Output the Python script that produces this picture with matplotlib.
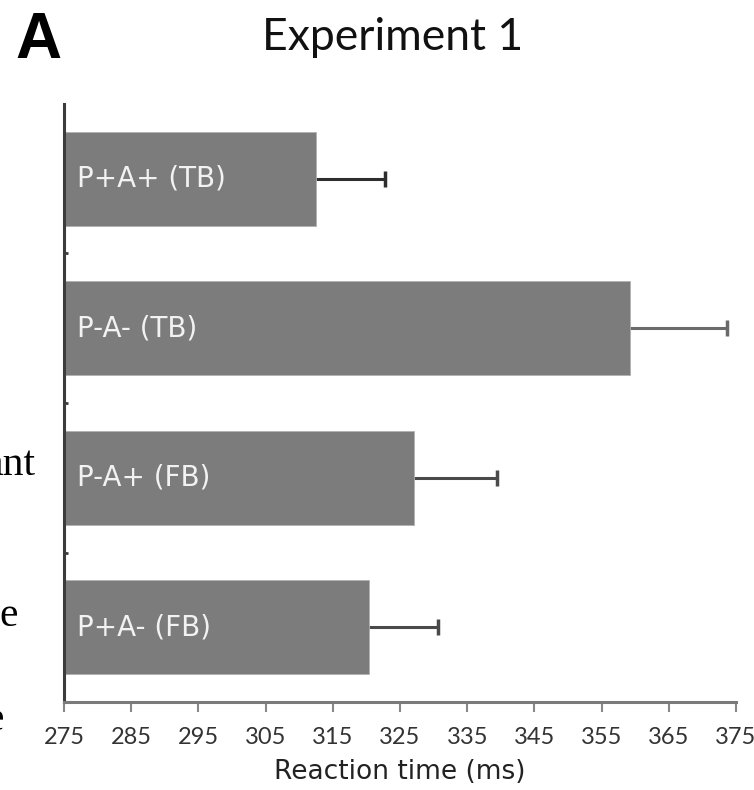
import matplotlib.pyplot as plt
import numpy as np

# data (ms)
conditions = ["P+A+ (TB)", "P-A- (TB)", "P-A+ (FB)", "P+A- (FB)"]
reaction_time = [312.5, 359.2, 327.1, 320.4]
error = [10.2, 14.5, 12.4, 10.2]
err_colors = ["#2e2e2e", "#6a6a6a", "#4a4a4a", "#4a4a4a"]
x_ticks = list(range(275, 376, 10))

W, H = 754, 790


def main() -> None:
    fig = plt.figure(figsize=(W / 100, H / 100), dpi=100)
    ax = fig.add_axes([64 / W, (H - 702) / H, 672 / W, 598 / H])

    y = np.arange(len(conditions))
    left = x_ticks[0]
    widths = [v - left for v in reaction_time]
    # error bars sit under the bars so only the right half shows
    for i, (v, e) in enumerate(zip(reaction_time, error)):
        ax.errorbar(v, i, xerr=e, fmt="none", ecolor=err_colors[i],
                    elinewidth=2.2, capsize=5.5, capthick=2.5, zorder=1)
    ax.barh(y, widths, left=left, height=0.63, color="#7c7c7c",
            edgecolor="#b0b0b0", linewidth=0.6, zorder=2)

    for i, name in enumerate(conditions):
        ax.text(left + 1.9, i, name, color="#f2f2f2", fontsize=20,
                family="DejaVu Sans", va="center", ha="left", zorder=4)

    ax.set_xlim(275, 375)
    ax.set_ylim(3.5, -0.5)
    ax.set_xticks(x_ticks)
    ax.set_xticklabels([str(t) for t in x_ticks], fontsize=17, family="Lato",
                       color="#333333")
    ax.set_yticks([])
    ax.set_yticks([0.5, 1.5, 2.5], minor=True)
    ax.tick_params(axis="y", which="minor", length=3, width=2, color="#3c3c3c",
                   direction="in", labelleft=False)
    ax.tick_params(axis="x", length=7, width=1.5, color="#888888", pad=11)

    for side in ("top", "right"):
        ax.spines[side].set_visible(False)
    ax.spines["left"].set_color("#3c3c3c")
    ax.spines["left"].set_linewidth(2.2)
    ax.spines["bottom"].set_color("#7a7a7a")
    ax.spines["bottom"].set_linewidth(2.2)

    ax.set_xlabel("Reaction time (ms)", fontsize=19, family="DejaVu Sans",
                  color="#222222", labelpad=8)

    fig.text(393 / W, (H - 50) / H, "Experiment 1", fontsize=32, family="Lato",
             ha="center", va="baseline", color="#111111")
    fig.text(15 / W, (H - 58) / H, "A", fontsize=46, fontweight="bold",
             family="Liberation Sans", ha="left", va="baseline")

    # clipped words from the neighbouring page text
    for txt, xr, base in [("ant", 36, 475), ("e", 18, 626), ("e", 4, 730)]:
        fig.text(xr / W, (H - base) / H, txt, fontsize=30,
                 family="Liberation Serif", ha="right", va="baseline")

    fig.savefig("out.png", dpi=100)
    plt.close(fig)


if __name__ == "__main__":
    main()
